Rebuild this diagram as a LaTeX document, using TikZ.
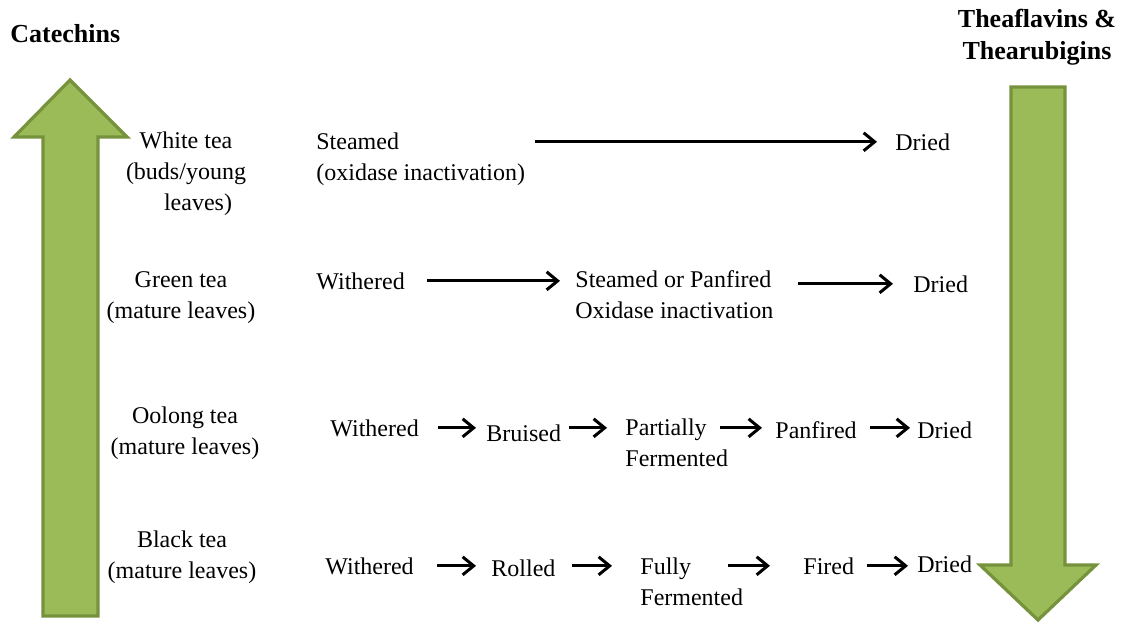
\documentclass[tikz,border=0pt]{standalone}
\usepackage{fontspec}
\setmainfont{Liberation Serif}
\usepackage{tikz}
\usetikzlibrary{arrows.meta, calc}
\definecolor{leafFill}{HTML}{9BBB59}
\definecolor{leafLine}{HTML}{76923C}
\definecolor{cText}{HTML}{000000}

\tikzset{
  step label/.style={font=\fontsize{12}{15.5}\selectfont, text=cText, inner sep=0pt,
                     anchor=base west, align=left},
  tea label/.style={font=\fontsize{12}{15.5}\selectfont, text=cText, inner sep=0pt,
                    anchor=base, align=center},
  head label/.style={font=\fontsize{13}{16}\selectfont\bfseries, text=cText, inner sep=0pt,
                     align=center},
  flow/.style={line width=1.5pt, draw=black,
               -{Straight Barb[length=5.5pt,width=9pt,line width=1.5pt]}},
  big arrow/.style={fill=leafFill, draw=leafLine, line width=1.6pt, line join=miter},
}

\begin{document}
\begin{tikzpicture}[x=0.5pt, y=-0.5pt]
        \useasboundingbox (0,0) rectangle (1128,622);
        % green trend arrows at both sides
        \draw[big arrow] (43,616) -- (43,137) -- (14,137) -- (70,80) -- (127,137)
                         -- (98,137) -- (98,616) -- cycle;
        \draw[big arrow] (1011,87) -- (1065,87) -- (1065,565) -- (1096,565) -- (1038,620)
                         -- (980,565) -- (1011,565) -- cycle;
        % (multi-line nodes sit on the baseline of their last line)
        \node[head label, anchor=base west] (cat) at (10,42) {Catechins};
        \node[head label, anchor=base] (thf) at (1037,59) {Theaflavins \&\\Thearubigins};
        % tea types
        \node[tea label] (white) at (186,210) {White tea\\(buds/young\\\hspace{1em}leaves)};
        \node[tea label] (green) at (181,318) {Green tea\\(mature leaves)};
        \node[tea label] (oolong) at (185,454) {Oolong tea\\(mature leaves)};
        \node[tea label] (black) at (182,578) {Black tea\\(mature leaves)};
        % white tea row
        \node[step label] (wStm) at (316,180) {Steamed\\(oxidase inactivation)};
        \node[step label] (wDry) at (895,150) {Dried};
        \draw[flow, shorten <=5pt, shorten >=9pt] (wStm.east |- wDry.west) -- (wDry.west);
        % green tea row
        \node[step label] (gWth) at (316,289) {Withered};
        \node[step label] (gStm) at (575,318) {Steamed or Panfired\\Oxidase inactivation};
        \node[step label] (gDry) at (913,292) {Dried};
        \draw[flow, shorten <=11pt, shorten >=7.5pt] (gWth.east) -- (gWth.east -| gStm.west);
        \draw[flow, shorten <=12pt, shorten >=10pt] (gStm.east |- gDry.west) -- (gDry.west);
        % oolong tea row
        \node[step label] (oWth) at (330,436) {Withered};
        \node[step label] (oBru) at (486,441) {Bruised};
        \node[step label] (oFer) at (625,466) {Partially\\Fermented};
        \node[step label] (oPan) at (775,438) {Panfired};
        \node[step label] (oDry) at (917,438) {Dried};
        \draw[flow, shorten <=9.5pt, shorten >=5pt] (oWth.east) -- (oWth.east -| oBru.west);
        \draw[flow, shorten <=4pt, shorten >=9pt] (oBru.east |- oWth.east) -- (oWth.east -| oFer.west);
        \draw[flow, shorten <=-4pt, shorten >=6.5pt] (oFer.east |- oWth.east) -- (oWth.east -| oPan.west);
        \draw[flow, shorten <=6.5pt, shorten >=3.5pt] (oPan.east |- oWth.east) -- (oWth.east -| oDry.west);
        % black tea row
        \node[step label] (bWth) at (325,574) {Withered};
        \node[step label] (bRol) at (491,576) {Rolled};
        \node[step label] (bFer) at (640,605) {Fully\\Fermented};
        \node[step label] (bFir) at (803,574) {Fired};
        \node[step label] (bDry) at (917,572) {Dried};
        \draw[flow, shorten <=11.5pt, shorten >=7.5pt] (bWth.east) -- (bWth.east -| bRol.west);
        \draw[flow, shorten <=8pt, shorten >=14pt] (bRol.east |- bWth.east) -- (bWth.east -| bFer.west);
        \draw[flow, shorten <=-7.5pt, shorten >=16.5pt] (bFer.east |- bFir.west) -- (bFir.west);
        \draw[flow, shorten <=6.5pt, shorten >=4.5pt] (bFir.east |- bFir.west) -- (bFir.west -| bDry.west);
      \end{tikzpicture}
\end{document}
